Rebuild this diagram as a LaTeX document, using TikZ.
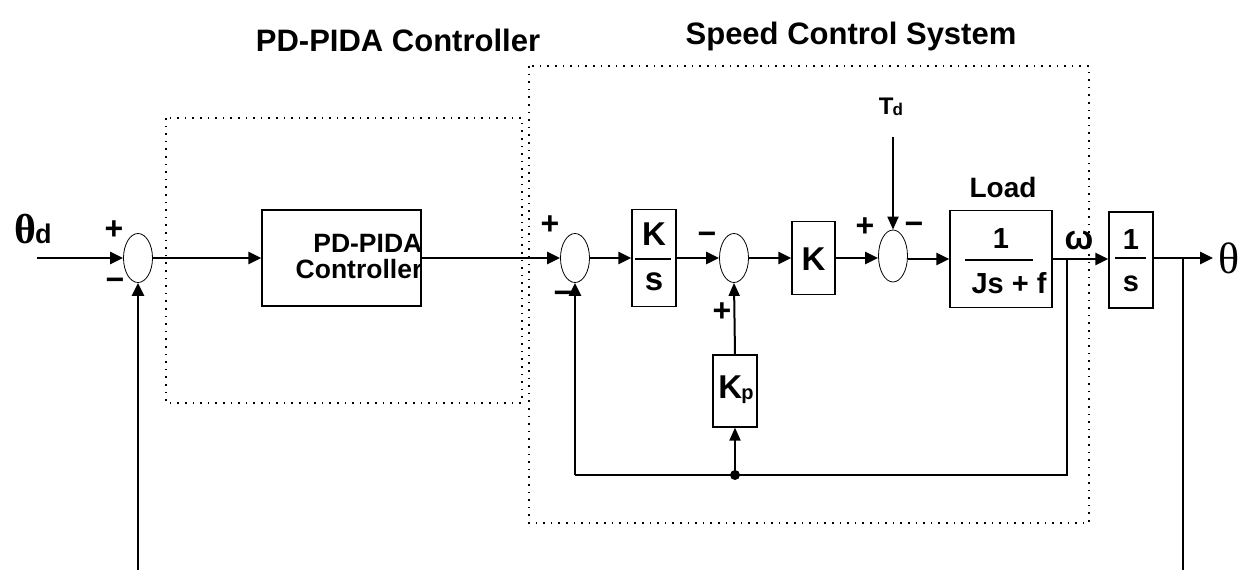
\documentclass[tikz,border=0pt]{standalone}
\usepackage{fontspec}
\setmainfont{Liberation Sans}
\newfontfamily\serifth{Liberation Serif}
\usetikzlibrary{arrows.meta,shapes.geometric}
\begin{document}
\begin{tikzpicture}[x=1pt,y=-1pt,
  sig/.style={line width=2.6pt,-{Triangle[length=13pt,width=12pt]}},
  thinsig/.style={line width=2pt,-{Triangle[length=13pt,width=11pt]}},
  wire/.style={line width=2.6pt},
  blk/.style={draw,line width=1.2pt,inner sep=0pt},
  sumn/.style={draw,ellipse,line width=0.8pt,minimum width=29pt,minimum height=49pt,inner sep=0pt},
  dotbox/.style={line width=1.8pt,dash pattern=on 1.6pt off 6pt},
  sgn/.style={font=\fontsize{32}{32}\selectfont\bfseries,inner sep=0pt},
  ttl/.style={font=\fontsize{31}{31}\selectfont\bfseries,inner sep=0pt},
  lbl/.style={font=\fontsize{29}{26}\selectfont\bfseries,inner sep=0pt},
  big/.style={font=\fontsize{33}{33}\selectfont\bfseries,inner sep=0pt},
]
\useasboundingbox[fill=white] (0,0) rectangle (1243,570);

% titles
\node[ttl] (t1) at (398,40) {PD-PIDA Controller};
\node[ttl] (t2) at (851,36) {Speed Control System};

% dotted boxes
\draw[dotbox] (166,118) rectangle (522,403);
\draw[dotbox] (529,66) rectangle (1089,523);

% summing junctions
\node[sumn] (s1) at (138,258) {};
\node[sumn] (s2) at (575,258) {};
\node[sumn] (s3) at (734,258) {};
\node[sumn,minimum height=52pt] (s4) at (893,256) {};

% blocks
\node[blk,minimum width=159pt,minimum height=96pt] (pd) at (341.5,258) {};
\node[inner sep=0pt,align=right,font=\fontsize{26.5}{26}\selectfont\bfseries] (pdl) at (359,257) {PD-PIDA\\Controller};

\node[blk,minimum width=44pt,minimum height=97pt] (ks) at (654,258) {};
\node[big] (ksn) at (654,234) {K};
\node[big] (ksd) at (654,282) {s};
\draw[line width=1.8pt] (635,259) -- (671,259);

\node[blk,minimum width=43pt,minimum height=73pt] (kb) at (813.5,258) {};
\node[big] (kbl) at (813.5,259) {K};

\node[blk,minimum width=44pt,minimum height=72pt] (kp) at (735,391) {};
\node[big] (kpl) at (736,390) {K\kern-1pt\raisebox{-1pt}{\fontsize{20}{20}\selectfont p}};

\node[blk,minimum width=102pt,minimum height=97pt] (load) at (1001,259) {};
\node[lbl] (loadn) at (1001,239) {1};
\node[lbl] (loadd) at (1009,283) {Js + f};
\draw[line width=1.8pt] (965,260) -- (1033,260);
\node[lbl,font=\fontsize{28}{28}\selectfont\bfseries] (loadt) at (1003,187) {Load};

\node[blk,minimum width=44pt,minimum height=96pt] (is) at (1131,260) {};
\node[lbl] (isn) at (1131,240) {1};
\node[lbl] (isd) at (1131,284) {s};
\draw[line width=1.8pt] (1115,258) -- (1146,258);

% labels
\node[inner sep=0pt] (thd) at (33,229) {{\serifth\bfseries\fontsize{42}{42}\selectfont θ}\kern-1pt{\fontsize{27}{27}\selectfont\bfseries d}};
\node[inner sep=0pt,font=\serifth\fontsize{44}{44}\selectfont] (tho) at (1229,258) {θ};
\node[inner sep=0pt,font=\fontsize{34}{34}\selectfont\bfseries] (om) at (1079,241) {ω};
\node[inner sep=0pt,font=\fontsize{24}{24}\selectfont\bfseries] (td) at (891,107) {T\kern-1pt\raisebox{-1pt}{\fontsize{17}{17}\selectfont d}};

% signs
\node[sgn] (p1) at (114,230) {+};
\node[sgn] (m1) at (115,284) {−};
\node[sgn] (p2) at (550,225) {+};
\node[sgn] (m2) at (563,297) {−};
\node[sgn] (m3) at (707,238) {−};
\node[sgn] (p3) at (722,312) {+};
\node[sgn] (p4) at (865,227) {+};
\node[sgn] (m4) at (914,228) {−};

% coordinates
\coordinate (in) at (37,258);
\coordinate (b0) at (138,570);
\coordinate (tdtop) at (893,137);
\coordinate (w) at (1067,258);
\coordinate (wd) at (1067,475);
\coordinate (j) at (735,475);
\coordinate (ld) at (575,475);
\coordinate (b1) at (1183,258);
\coordinate (b1d) at (1183,570);
\coordinate (thend) at (1213,258);

% forward path
\draw[sig] (in) -- (s1.west);
\draw[sig] (s1.east) -- (pd.west);
\draw[sig] (pd.east) -- (s2.west);
\draw[sig] (s2.east) -- (ks.west);
\draw[sig] (ks.east) -- (s3.west);
\draw[sig] (s3.east) -- (kb.west);
\draw[sig] (kb.east) -- (s4.west |- kb.east);
\draw[sig] (s4.east |- load.west) -- (load.west);
\draw[sig] (load.east) -- (is.west |- load.east);
\draw[sig] (is.east |- thend) -- (thend);
\draw[thinsig] (tdtop) -- (s4.north);

% feedback paths
\draw[sig] (b0) -- (s1.south);
\draw[wire] (b1) -- (b1d);
\draw[wire] (w) -- (wd) -- (j) -- (ld);
\draw[sig] (ld) -- (s2.south);
\draw[thinsig] (j) -- (kp.south);
\draw[thinsig] (kp.north) -- (s3.south);
\fill (j) circle (5pt);
\end{tikzpicture}
\end{document}
